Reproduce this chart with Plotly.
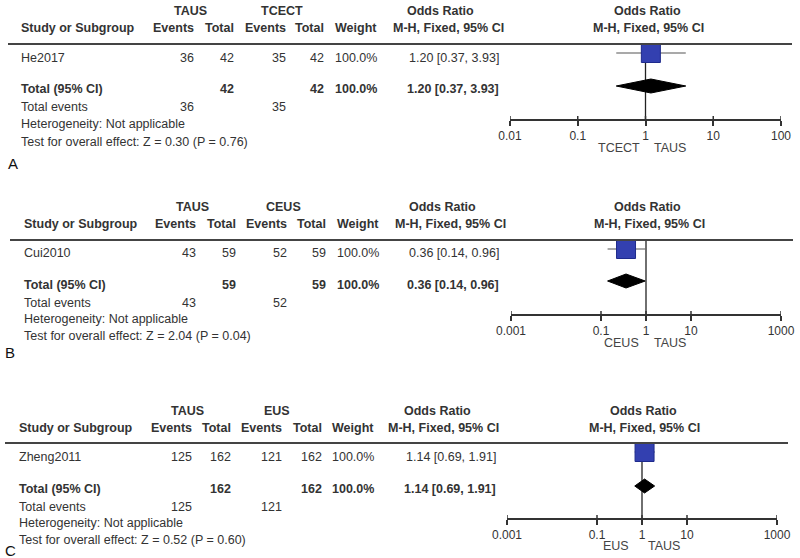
import math
import plotly.graph_objects as go

# ---------------- data ----------------
panel_labels = ["A", "B", "C"]
study_names = ["He2017", "Cui2010", "Zheng2011"]
exp_names = ["TAUS", "TAUS", "TAUS"]
ctrl_names = ["TCECT", "CEUS", "EUS"]
exp_events = [36, 43, 125]
exp_totals = [42, 59, 162]
ctrl_events = [35, 52, 121]
ctrl_totals = [42, 59, 162]
weights = [100.0, 100.0, 100.0]
odds_ratios = [1.20, 0.36, 1.14]
ci_lower = [0.37, 0.14, 0.69]
ci_upper = [3.93, 0.96, 1.91]
z_values = [0.30, 2.04, 0.52]
p_values = [0.76, 0.04, 0.60]
axis_ticks = [[0.01, 0.1, 1, 10, 100],
              [0.001, 0.1, 1, 10, 1000],
              [0.001, 0.1, 1, 10, 1000]]
axis_tick_labels = [["0.01", "0.1", "1", "10", "100"],
                    ["0.001", "0.1", "1", "10", "1000"],
                    ["0.001", "0.1", "1", "10", "1000"]]

# ---------------- layout geometry (pixels) ----------------
W, H = 800, 558
FONT = "Liberation Sans, Arial, sans-serif"
TXT = "#333333"
FS = 12.5

geo = [
    dict(h1=11, h2=28, line_y=44, row_y=58, sq_y=53, tot_y=89, dia_y=86, ev_y=107, het_y=124,
         test_y=142, axis_y=120, fav_y=148, letter=(13, 163), study_x=20,
         cols=[195, 235, 287, 325, 378], grp=[190, 282], or_r=500, or_h=(440, 448),
         plot_h=(647, 648), ax=(510, 781), line_x=(8, 792), fav_shift=(-5, 7)),
    dict(h1=207, h2=224, line_y=240, row_y=253, sq_y=249, tot_y=285, dia_y=281, ev_y=303, het_y=319,
         test_y=336, axis_y=315, fav_y=343, letter=(10, 352), study_x=23,
         cols=[197, 237, 288, 327, 380], grp=[192, 283], or_r=500, or_h=(442, 450),
         plot_h=(647, 649), ax=(511, 781), line_x=(10, 793), fav_shift=(-6, 7)),
    dict(h1=411, h2=428, line_y=443, row_y=457, sq_y=452, tot_y=489, dia_y=486, ev_y=507, het_y=523,
         test_y=540, axis_y=519, fav_y=546, letter=(10, 550), study_x=18,
         cols=[193, 232, 283, 323, 375], grp=[187, 277], or_r=497, or_h=(437, 443),
         plot_h=(643, 644), ax=(507, 777), line_x=(5, 788), fav_shift=(-12, 5)),
]


def px(x):
    return x / W


def py(y):
    return 1 - y / H


annotations = []
shapes = []


def ann(text, x, y, anchor="left", bold=False, size=FS, color=TXT):
    if bold:
        text = "<b>" + text + "</b>"
    annotations.append(dict(text=text, x=px(x), y=py(y), xref="paper", yref="paper",
                            xanchor=anchor, yanchor="middle", showarrow=False, borderpad=0,
                            font=dict(family=FONT, size=size, color=color)))


fig = go.Figure()

for i in range(3):
    g = geo[i]
    xa = "x" if i == 0 else f"x{i+1}"
    xa_layout = "xaxis" if i == 0 else f"xaxis{i+1}"

    # ---- table headers ----
    ann(exp_names[i], g["grp"][0], g["h1"], "center", True)
    ann(ctrl_names[i], g["grp"][1], g["h1"], "center", True)
    ann("Odds Ratio", g["or_h"][0], g["h1"], "center", True)
    ann("Odds Ratio", g["plot_h"][0], g["h1"], "center", True)
    ann("Study or Subgroup", g["study_x"], g["h2"], "left", True)
    for txt, cx in zip(["Events", "Total", "Events", "Total", "Weight"], g["cols"]):
        ann(txt, cx, g["h2"], "right", True)
    ann("M-H, Fixed, 95% CI", g["or_h"][1], g["h2"], "center", True)
    ann("M-H, Fixed, 95% CI", g["plot_h"][1], g["h2"], "center", True)

    # heavy rule under header
    shapes.append(dict(type="line", xref="paper", yref="paper",
                       x0=px(g["line_x"][0]), x1=px(g["line_x"][1]),
                       y0=py(g["line_y"]), y1=py(g["line_y"]),
                       line=dict(color="#444444", width=2)))

    # ---- study row ----
    or_text = f"{odds_ratios[i]:.2f} [{ci_lower[i]:.2f}, {ci_upper[i]:.2f}]"
    ann(study_names[i], g["study_x"], g["row_y"], "left")
    row_vals = [str(exp_events[i]), str(exp_totals[i]), str(ctrl_events[i]),
                str(ctrl_totals[i]), f"{weights[i]:.1f}%"]
    for v, cx in zip(row_vals, g["cols"]):
        ann(v, cx, g["row_y"], "right")
    ann(or_text, g["or_r"], g["row_y"], "right")

    # ---- total row ----
    ann("Total (95% CI)", g["study_x"], g["tot_y"], "left", True)
    ann(str(exp_totals[i]), g["cols"][1], g["tot_y"], "right", True)
    ann(str(ctrl_totals[i]), g["cols"][3], g["tot_y"], "right", True)
    ann(f"{weights[i]:.1f}%", g["cols"][4], g["tot_y"], "right", True)
    ann(or_text, g["or_r"], g["tot_y"], "right", True)

    ann("Total events", g["study_x"], g["ev_y"], "left")
    ann(str(exp_events[i]), g["cols"][0], g["ev_y"], "right")
    ann(str(ctrl_events[i]), g["cols"][2], g["ev_y"], "right")
    ann("Heterogeneity: Not applicable", g["study_x"], g["het_y"], "left")
    ann(f"Test for overall effect: Z = {z_values[i]:.2f} (P = {p_values[i]:.2f})",
        g["study_x"], g["test_y"], "left")

    ann(panel_labels[i], g["letter"][0], g["letter"][1], "center", size=15, color="#111111")

    # favours labels attached to OR = 1
    annotations.append(dict(text=ctrl_names[i], x=0, y=py(g["fav_y"]), xref=xa, yref="paper",
                            xanchor="right", yanchor="middle", xshift=g["fav_shift"][0],
                            showarrow=False, borderpad=0,
                            font=dict(family=FONT, size=FS, color="#444444")))
    annotations.append(dict(text=exp_names[i], x=0, y=py(g["fav_y"]), xref=xa, yref="paper",
                            xanchor="left", yanchor="middle", xshift=g["fav_shift"][1],
                            showarrow=False, borderpad=0,
                            font=dict(family=FONT, size=FS, color="#444444")))

    # ---- forest plot ----
    shapes.append(dict(type="line", xref=xa, yref="y", x0=1, x1=1,
                       y0=g["line_y"], y1=g["axis_y"], layer="below",
                       line=dict(color="#222222", width=1.3)))
    for tv in axis_ticks[i]:
        shapes.append(dict(type="line", xref=xa, yref="y", x0=tv, x1=tv,
                           y0=g["axis_y"] - 4, y1=g["axis_y"],
                           line=dict(color="#333333", width=1.5)))

    fig.add_trace(go.Scatter(x=[ci_lower[i], ci_upper[i]], y=[g["sq_y"], g["sq_y"]],
                             mode="lines", line=dict(color="#555555", width=1.2),
                             xaxis=xa, yaxis="y", showlegend=False, hoverinfo="skip"))
    fig.add_trace(go.Scatter(x=[odds_ratios[i]], y=[g["sq_y"]], mode="markers",
                             marker=dict(symbol="square", size=19, color="#3340B0",
                                         line=dict(color="#1E2A8C", width=1)),
                             xaxis=xa, yaxis="y", showlegend=False))
    dh = 7
    fig.add_trace(go.Scatter(x=[ci_lower[i], odds_ratios[i], ci_upper[i], odds_ratios[i], ci_lower[i]],
                             y=[g["dia_y"], g["dia_y"] - dh, g["dia_y"], g["dia_y"] + dh, g["dia_y"]],
                             mode="lines", fill="toself", fillcolor="black",
                             line=dict(color="black", width=1),
                             xaxis=xa, yaxis="y", showlegend=False))

    lo_t, hi_t = axis_ticks[i][0], axis_ticks[i][-1]
    fig.layout[xa_layout] = dict(
        type="log", domain=[px(g["ax"][0]), px(g["ax"][1])],
        range=[math.log10(lo_t), math.log10(hi_t)],
        anchor="free", position=py(g["axis_y"]), automargin=False,
        showline=True, linecolor="#333333", linewidth=1.5,
        ticks="outside", ticklen=5, tickwidth=1.5, tickcolor="#333333",
        tickvals=axis_ticks[i], ticktext=axis_tick_labels[i],
        tickfont=dict(family=FONT, size=12, color="#333333"),
        showgrid=False, zeroline=False, fixedrange=True,
    )

fig.update_layout(
    template="none",
    width=W, height=H,
    margin=dict(l=0, r=0, t=0, b=0, pad=0, autoexpand=False),
    paper_bgcolor="white", plot_bgcolor="rgba(0,0,0,0)",
    yaxis=dict(domain=[0, 1], range=[H, 0], visible=False, fixedrange=True, automargin=False),
    annotations=annotations, shapes=shapes,
    showlegend=False,
)

fig.write_html("out.html",
               config={"displayModeBar": False},
               post_script="document.body.style.margin='0';document.body.style.overflow='hidden';")
